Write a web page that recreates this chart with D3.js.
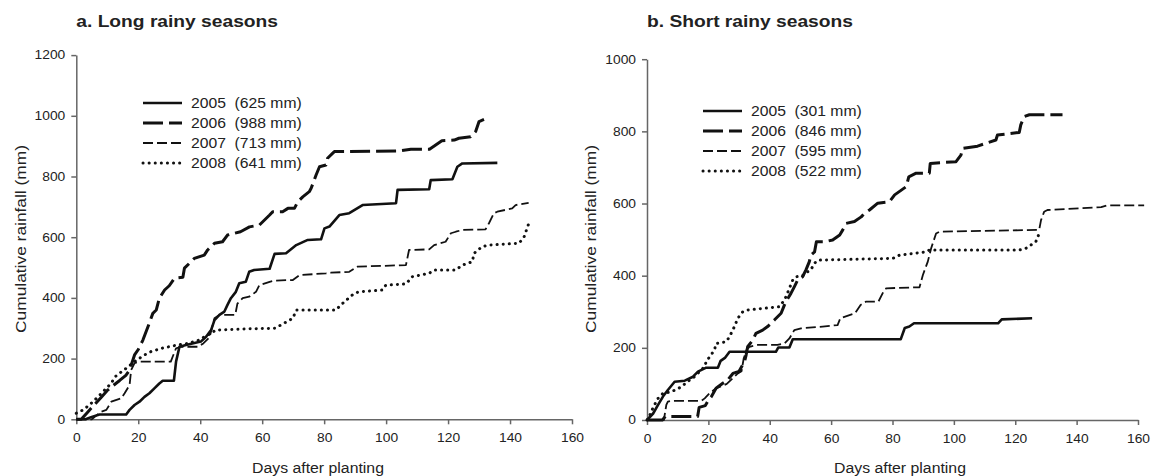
<!DOCTYPE html>
<html>
<head>
<meta charset="utf-8">
<script src="https://cdn.jsdelivr.net/npm/d3@7"></script>
<style>
  body { margin: 0; background: #fff; }
  text { font-family: "Liberation Sans", Arial, sans-serif; fill: #222; }
</style>
</head>
<body>
<svg id="chart" width="1153" height="476"></svg>
<script>
// ---- data (days after planting, cumulative rainfall mm) ----
const years = ["2005", "2006", "2007", "2008"]
const longTotals = [625, 988, 713, 641]
const shortTotals = [301, 846, 595, 522]
const dayTicks = [0, 20, 40, 60, 80, 100, 120, 140, 160]
const longRainTicks = [0, 200, 400, 600, 800, 1000, 1200]
const shortRainTicks = [0, 200, 400, 600, 800, 1000]

const long2005 = [[0,0],[3,0],[5,8],[7.5,16],[16.1,16],[17.2,31],[18.8,47],[20.4,58],[22,74],[23.6,86],[25.2,102],[26.8,118],[27.9,127],[31.5,127],[32.2,190],[33.3,239],[35.4,245],[40.2,256],[41.9,272],[43.5,294],[44.6,327],[46.2,344],[47.8,355],[48.8,377],[49.9,399],[51.5,420],[52.6,448],[54.7,453],[55.8,486],[57.4,492],[62.4,496],[64,545],[67.7,547],[71,574],[74.7,591],[79,593],[80.1,629],[81.7,635],[84.9,673],[88.1,679],[92.4,706],[103.2,712],[103.7,756],[113.9,758],[114.4,788],[121.4,791],[123,832],[124.6,843],[135.9,845]]
const long2006 = [[0,0],[1.6,0],[3.8,25],[6,50],[8,72],[10,95],[12,112],[14,128],[16,145],[17.2,162],[18.8,212],[20,230],[21.5,261],[23.1,304],[24.7,349],[25.8,360],[26.8,399],[28.5,426],[30,440],[31.7,465],[34.4,468],[34.9,498],[36.5,514],[38.1,530],[41.3,541],[42.4,558],[44.6,580],[47.2,585],[48.8,607],[53,618],[55.9,634],[59.1,640],[62.4,673],[63.4,684],[66.6,684],[68.3,695],[70.4,695],[71.5,717],[73.1,733],[75.2,750],[75.8,761],[77.4,805],[78.5,832],[80.6,838],[81.1,860],[82.7,876],[83.3,882],[103.7,884],[108,890],[114,890],[116,904],[118,918],[122,920],[123.5,926],[127.3,931],[128.9,948],[130,981],[131.6,988]]
const long2007 = [[0,0],[5,0],[8,25],[9.7,31],[11.3,58],[14.5,69],[15.6,86],[17.2,113],[17.7,162],[18.8,185],[20.4,190],[30.5,190],[31.1,206],[32.2,234],[33.8,239],[39.2,239],[41,250],[43,270],[44.6,333],[46.2,344],[51.3,344],[52,381],[53.7,399],[55.8,404],[58,420],[59.1,442],[62.4,453],[64,457],[69.9,459],[72,475],[80.6,481],[82.2,483],[88.1,486],[90.8,503],[106.4,508],[107.4,558],[113.9,560],[115.5,574],[119.2,585],[120.9,613],[122.5,618],[124.6,624],[132.1,626],[133.2,646],[134.8,679],[135.9,684],[140.7,695],[141.8,706],[146,713]]
const long2008 = [[0,20],[2,30],[4,45],[7,74],[9,95],[11.3,119],[12.5,140],[14,152],[16.1,168],[18.8,190],[22,212],[24.1,223],[28,235],[32.7,245],[36,250],[40,262],[41.3,272],[43.5,283],[45,294],[55,298],[64,300],[66.1,311],[69.9,333],[71,360],[83.8,360],[85.4,377],[89.7,415],[91.3,420],[98.8,426],[99.9,442],[106.4,446],[108.5,470],[113.9,481],[115.5,492],[122.5,492],[124.6,508],[127.8,519],[128.4,547],[131,569],[133.2,574],[142.9,580],[144.5,600],[145.9,641]]

const short2005 = [[0,0],[2,18],[3.6,42],[5.2,65],[6.8,83],[9,106],[12.3,109],[15,120],[16.6,134],[19.3,145],[23.1,145],[24,164],[25.5,173],[26.9,189],[42,189],[42.8,201],[46.4,201],[47.5,224],[82.7,224],[84,255],[85.5,259],[87,268],[114.4,268],[115.6,279],[125.5,282]]
const short2006 = [[0,0],[5,0],[6,10],[16.5,10],[17,35],[19,40],[20,55],[21,65],[22.5,88],[24.7,102],[26.3,111],[28,129],[30,135],[31.8,162],[32.3,180],[32.8,203],[34.5,222],[35.5,240],[37.7,249],[39.3,259],[41.5,277],[43.7,296],[44.8,319],[45.9,337],[46.9,351],[48,369],[49.1,388],[50.7,397],[51.8,416],[52.9,439],[53.4,457],[54.6,466],[55.2,494],[57.9,494],[60.5,499],[62.8,513],[63.8,527],[64.9,545],[67.6,550],[69.8,563],[70.9,573],[72.5,582],[75.2,601],[79,605],[80.7,624],[84.5,647],[85.3,674],[87.7,684],[92,684],[92.3,711],[100.7,716],[102.3,734],[102.9,753],[107.7,759],[110.5,767],[113.7,776],[114.2,790],[121.3,797],[121.8,818],[122.9,841],[124.6,846],[135.4,846]]
const short2007 = [[0,0],[5.5,0],[6.3,42],[6.8,51],[7.9,53],[17.7,53],[18.8,60],[20.4,74],[22.5,88],[24.1,93],[26,100],[28.5,120],[29.6,129],[30.8,135],[31.5,170],[32.5,195],[33.4,203],[36.1,208],[42.5,208],[44.8,212],[46.4,226],[48,249],[50.2,254],[57.2,259],[62.1,263],[63,282],[67.8,296],[69.6,319],[71.3,328],[75.4,328],[77.3,360],[78,365],[88.8,368],[89.9,402],[91.5,439],[92.6,476],[94.2,517],[95.3,522],[127.8,527],[128.4,554],[129.4,577],[130.5,582],[148,590],[150,595],[162,595]]
const short2008 = [[0,0],[1,15],[2,35],[3.6,60],[5.2,74],[7.9,78],[11.2,92],[13,105],[15.5,120],[17.1,134],[18.8,148],[19.3,162],[20.4,175],[22,194],[22.5,212],[25.8,217],[26.9,231],[28.5,259],[29.6,282],[31.2,300],[32.8,305],[43.2,314],[44.8,333],[45.3,342],[46.4,365],[47.5,388],[48.6,397],[50.7,400],[51.8,408],[53.4,416],[54.5,434],[55.7,443],[80.1,448],[82.3,457],[91,466],[92,471],[121.3,471],[123.5,476],[126.7,494],[127.8,517],[128.2,522]]

// ---- styles per year ----
const lineStyles = [
  { width: 2.6, dash: null, cap: "butt" },
  { width: 3.0, dash: "20,6", cap: "butt" },
  { width: 1.8, dash: "10,4", cap: "butt" },
  { width: 3.0, dash: "0.1,6", cap: "round" }
]

const svg = d3.select("#chart")

// the original figure is stretched sideways, so text is widened to match
function stretch(sel, k) {
  sel.each(function() {
    const w = this.getComputedTextLength()
    d3.select(this).attr("textLength", w * k).attr("lengthAdjust", "spacingAndGlyphs")
  })
}

function drawPanel(p) {
  const x = d3.scaleLinear().domain([0, 160]).range(p.xRange)
  const y = d3.scaleLinear().domain([0, p.yMax]).range(p.yRange)
  const g = svg.append("g")

  const xAxis = g.append("g")
    .attr("transform", `translate(0,${p.yRange[0]})`)
    .call(d3.axisBottom(x).tickValues(dayTicks).tickFormat(d3.format("d"))
      .tickSize(5).tickSizeOuter(0).tickPadding(6))
  const yAxis = g.append("g")
    .attr("transform", `translate(${p.xRange[0]},0)`)
    .call(d3.axisLeft(y).tickValues(p.yTicks).tickFormat(d3.format("d"))
      .tickSize(5).tickSizeOuter(0).tickPadding(6))

  ;[xAxis, yAxis].forEach(a => {
    a.select(".domain").attr("stroke", "#666").attr("stroke-width", 1.5)
    a.selectAll(".tick line").attr("stroke", "#666").attr("stroke-width", 1.5)
    a.selectAll(".tick text")
      .attr("font-size", 12).attr("fill", "#222")
      .style("font-family", "'Liberation Sans', Arial, sans-serif")
      .call(stretch, 1.15)
  })
  xAxis.selectAll(".tick text").attr("dy", "1em")

  const line = d3.line().x(d => x(d[0])).y(d => y(d[1]))
  p.series.forEach((s, i) => {
    const st = lineStyles[i]
    g.append("path")
      .datum(s)
      .attr("fill", "none")
      .attr("stroke", "#111")
      .attr("stroke-width", st.width)
      .attr("stroke-dasharray", st.dash)
      .attr("stroke-linecap", st.cap)
      .attr("stroke-linejoin", "round")
      .attr("d", line)
  })

  // legend
  const lg = g.append("g").attr("transform", `translate(${p.legend[0]},${p.legend[1]})`)
  years.forEach((yr, i) => {
    const st = lineStyles[i]
    lg.append("line")
      .attr("x1", 0).attr("x2", 39)
      .attr("y1", i * 20).attr("y2", i * 20)
      .attr("stroke", "#111")
      .attr("stroke-width", st.width)
      .attr("stroke-dasharray", st.dash)
      .attr("stroke-linecap", st.cap)
    lg.append("text")
      .attr("x", 48).attr("y", i * 20 + 5)
      .attr("font-size", 14)
      .style("white-space", "pre")
      .text(`${yr}  (${p.totals[i]} mm)`)
      .call(stretch, 1.12)
  })

  g.append("text")
    .attr("x", p.xRange[0]).attr("y", 27)
    .attr("font-size", 16).attr("font-weight", "bold").attr("fill", "#111")
    .text(p.title)
    .call(stretch, 1.2)

  g.append("text")
    .attr("x", p.xLabelX).attr("y", 473)
    .attr("text-anchor", "middle")
    .attr("font-size", 14)
    .text("Days after planting")
    .call(stretch, 1.13)

  g.append("text")
    .attr("transform", `translate(${p.yLabelX},239) rotate(-90)`)
    .attr("text-anchor", "middle")
    .attr("font-size", 15)
    .attr("textLength", 188).attr("lengthAdjust", "spacingAndGlyphs")
    .text("Cumulative rainfall (mm)")
}

drawPanel({
  title: "a. Long rainy seasons",
  xRange: [76.3, 572], yRange: [419.3, 55.1],
  yMax: 1200, yTicks: longRainTicks,
  series: [long2005, long2006, long2007, long2008],
  totals: longTotals,
  legend: [143, 103],
  xLabelX: 318, yLabelX: 26
})

drawPanel({
  title: "b. Short rainy seasons",
  xRange: [647, 1138], yRange: [420, 59.2],
  yMax: 1000, yTicks: shortRainTicks,
  series: [short2005, short2006, short2007, short2008],
  totals: shortTotals,
  legend: [703, 111],
  xLabelX: 900, yLabelX: 596
})
</script>
</body>
</html>
